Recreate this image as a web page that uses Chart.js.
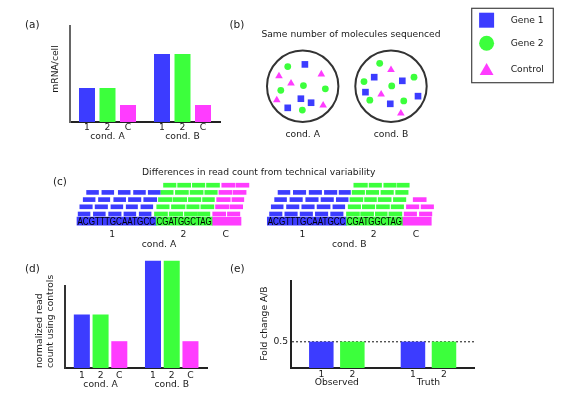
<!DOCTYPE html>
<html>
<head>
<meta charset="utf-8">
<title>Control-based normalization schematic</title>
<script src="https://cdn.jsdelivr.net/npm/chart.js@4/dist/chart.umd.min.js"></script>
<style>
  html, body { margin: 0; padding: 0; background: #ffffff; }
  #wrap { position: relative; width: 562px; height: 397px; overflow: hidden;
          font-family: "DejaVu Sans", Verdana, sans-serif; color: #1a1a1a; }
  #wrap canvas { position: absolute; left: 0; top: 0; }
  .lbl { position: absolute; white-space: nowrap; line-height: 1; font-size: 10.5px; transform: translateY(-50%); }
  .ttl { position: absolute; white-space: nowrap; line-height: 1; font-size: 9.2px; transform: translate(-50%, -50%); }
</style>
</head>
<body>
<div id="wrap">
  <canvas id="chartA" width="562" height="397"></canvas>
  <canvas id="chartB1" width="562" height="397"></canvas>
  <canvas id="chartB2" width="562" height="397"></canvas>
  <canvas id="chartC1" width="562" height="397"></canvas>
  <canvas id="chartC2" width="562" height="397"></canvas>
  <canvas id="chartD" width="562" height="397"></canvas>
  <canvas id="chartE" width="562" height="397"></canvas>
  <div class="lbl" style="left:25px;top:24px">(a)</div>
  <div class="lbl" style="left:229.5px;top:24px">(b)</div>
  <div class="lbl" style="left:53px;top:181px">(c)</div>
  <div class="lbl" style="left:25px;top:267.5px">(d)</div>
  <div class="lbl" style="left:230px;top:267.5px">(e)</div>
  <div class="ttl" style="left:351px;top:34.3px">Same number of molecules sequenced</div>
  <div class="ttl" style="left:258.7px;top:171.7px">Differences in read count from technical variability</div>
</div>
<script>
// ====================== DATA ======================
const geneNames = ['Gene 1', 'Gene 2', 'Control'];
const geneShort = ['1', '2', 'C'];
const condLabels = ['cond. A', 'cond. B'];

// (a) true mRNA per cell
const mrnaGene1 = [2, 4];
const mrnaGene2 = [2, 4];
const mrnaControl = [1, 1];

// (b) molecules sequenced: [x, y] inside the sample (unit radius)
const molA_gene1 = [[0.06, 0.60], [-0.05, -0.34], [0.23, -0.45], [-0.41, -0.59]];
const molA_gene2 = [[-0.41, 0.54], [0.02, 0.02], [-0.60, -0.11], [0.62, -0.07], [-0.01, -0.65]];
const molA_control = [[-0.65, 0.28], [-0.32, 0.08], [0.51, 0.33], [-0.71, -0.38], [0.56, -0.52]];
const molB_gene1 = [[-0.46, 0.25], [0.31, 0.15], [-0.70, -0.16], [-0.02, -0.48], [0.74, -0.27]];
const molB_gene2 = [[-0.31, 0.63], [-0.74, 0.13], [0.63, 0.25], [0.02, 0.01], [-0.58, -0.38], [0.35, -0.40]];
const molB_control = [[0.00, 0.45], [-0.27, -0.22], [0.27, -0.74]];

// (c) reference sequence segments (nt) and reads [start, end, row]
const refStart = [0, 14, 24];
const refEnd = [14, 24, 29];
const refSeq = ['ACGTTTGCAATGCC', 'CGATGGCTAG', ''];
const readTickPos = [6.2, 18.8, 26.3];
const condTickPos = 14.5;
const readsA_gene1 = [
  [0.2, 2.3, 1], [2.9, 5.0, 1], [5.6, 7.8, 1], [8.3, 10.4, 1], [11.0, 13.1, 1],
  [0.5, 2.7, 2], [3.2, 5.4, 2], [6.0, 8.1, 2], [8.7, 10.7, 2], [11.3, 13.4, 2],
  [1.1, 3.2, 3], [3.8, 5.8, 3], [6.5, 8.6, 3], [9.1, 11.3, 3], [11.8, 14.1, 3],
  [1.7, 3.8, 4], [4.4, 6.5, 4], [7.3, 9.4, 4], [10.0, 12.1, 4], [12.6, 14.7, 4]
];
const readsA_gene2 = [
  [13.7, 16.0, 1], [16.3, 18.7, 1], [19.0, 21.2, 1], [21.3, 23.5, 1],
  [14.1, 16.3, 2], [16.7, 19.1, 2], [19.4, 21.6, 2], [21.9, 24.2, 2],
  [14.4, 16.8, 3], [17.0, 19.4, 3], [19.7, 21.9, 3], [22.2, 24.3, 3],
  [14.8, 17.0, 4], [17.4, 19.7, 4], [20.0, 22.3, 4], [22.6, 24.8, 4],
  [15.3, 17.5, 5], [17.8, 20.1, 5], [20.4, 22.6, 5], [22.9, 25.2, 5]
];
const readsA_control = [
  [24.0, 26.3, 1], [26.6, 28.8, 1],
  [24.5, 26.9, 2], [27.1, 29.3, 2],
  [24.7, 27.1, 3], [27.4, 29.5, 3],
  [25.1, 27.4, 4], [27.6, 29.9, 4],
  [25.6, 27.9, 5], [28.1, 30.4, 5]
];
const readsB_gene1 = [
  [0.4, 2.6, 1], [3.1, 5.3, 1], [5.8, 8.0, 1], [8.5, 10.7, 1], [11.2, 13.4, 1],
  [0.7, 2.8, 2], [3.4, 5.6, 2], [6.1, 8.3, 2], [8.8, 11.1, 2], [11.6, 13.7, 2],
  [1.3, 3.4, 3], [4.0, 6.2, 3], [6.8, 9.0, 3], [9.5, 11.7, 3], [12.2, 14.3, 3],
  [1.9, 4.0, 4], [4.6, 6.8, 4], [7.4, 9.6, 4], [10.1, 12.3, 4], [12.7, 14.7, 4]
];
const readsB_gene2 = [
  [14.0, 16.3, 1], [16.5, 18.8, 1], [19.1, 21.2, 1], [21.5, 23.8, 1],
  [14.3, 16.5, 2], [16.8, 19.0, 2], [19.3, 21.6, 2], [21.9, 24.1, 2],
  [14.6, 16.9, 3], [17.2, 19.3, 3], [19.6, 21.9, 3], [22.3, 24.5, 3],
  [15.0, 17.2, 4], [17.5, 19.7, 4], [20.1, 22.3, 4], [22.7, 24.9, 4],
  [15.3, 17.7, 5], [18.0, 20.2, 5], [20.6, 22.8, 5], [23.0, 25.1, 5]
];
const readsB_control = [
  [24.2, 26.4, 1], [26.9, 29.1, 1],
  [24.6, 26.8, 2], [27.2, 29.4, 2],
  [25.8, 28.1, 3]
];

// (d) normalized read count using controls
const normGene1 = [2, 4];
const normGene2 = [2, 4];
const normControl = [1, 1];

// (e) fold change A/B
const foldLabels = ['Observed', 'Truth'];
const foldGene1 = [0.5, 0.5];
const foldGene2 = [0.5, 0.5];
const foldTicks = [0.5];

// ====================== STYLE ======================
const W = 562, H = 397;
const COL = ['#3c3cff', '#3cff3c', '#ff3cff'];
const MARKERS = ['rect', 'circle', 'triangle'];
const TEXT = '#1a1a1a';
const FAMILY = '"DejaVu Sans", Verdana, sans-serif';
const FONT = '9.2px ' + FAMILY;

Chart.defaults.font.family = FAMILY;
Chart.defaults.font.size = 9.2;
Chart.defaults.color = TEXT;
Chart.defaults.animation = false;
Chart.defaults.events = [];
Chart.defaults.responsive = false;
Chart.defaults.maintainAspectRatio = false;
Chart.defaults.plugins.legend.display = false;
Chart.defaults.plugins.tooltip.enabled = false;

function areaPad(l, t, r, b) { return {left: l, top: t, right: W - r, bottom: H - b}; }

// ---------- plugins ----------
function underLabels(barY, groupY) {
  return {
    id: 'underLabels',
    afterDraw(chart) {
      const ctx = chart.ctx;
      ctx.save();
      ctx.fillStyle = TEXT; ctx.font = FONT; ctx.textAlign = 'center'; ctx.textBaseline = 'middle';
      const groupX = chart.data.labels.map(() => []);
      chart.data.datasets.forEach((ds, i) => {
        chart.getDatasetMeta(i).data.forEach((el, j) => {
          ctx.fillText(ds.short, el.x, barY);
          groupX[j].push(el.x);
        });
      });
      chart.data.labels.forEach((lab, j) => {
        const xs = groupX[j];
        const x = xs.reduce((a, b) => a + b, 0) / xs.length;
        ctx.fillText(lab, x, groupY);
      });
      ctx.restore();
    }
  };
}
function yTitle(lines, xs, y, align) {
  return {
    id: 'yTitle',
    afterDraw(chart) {
      const ctx = chart.ctx;
      ctx.save();
      ctx.fillStyle = TEXT; ctx.font = FONT; ctx.textAlign = align; ctx.textBaseline = 'middle';
      lines.forEach((t, i) => {
        ctx.save(); ctx.translate(xs[i], y); ctx.rotate(-Math.PI / 2); ctx.fillText(t, 0, 0); ctx.restore();
      });
      ctx.restore();
    }
  };
}

// ---------- bar panels (a), (d), (e) ----------
function barPanel(id, p) {
  const datasets = p.series.map((vals, i) => ({
    label: geneNames[i], short: geneShort[i], data: vals,
    backgroundColor: COL[i], borderWidth: 0,
    categoryPercentage: p.cat, barPercentage: p.bar, clip: false
  }));
  const y = {
    min: 0, max: p.ymax,
    grid: {display: false, drawTicks: false},
    ticks: {display: false},
    border: {display: true, color: p.yColor, width: 2},
    afterFit: s => { s.width = p.yw; }
  };
  if (p.yTicks) {
    y.afterBuildTicks = s => { s.ticks = p.yTicks.map(v => ({value: v})); };
    y.ticks = {display: true, padding: 3, color: TEXT, font: {size: 9.2}, callback: v => String(v)};
    y.grid = {display: true, drawTicks: false, color: '#555', lineWidth: 1.4};
    y.border = {display: true, color: p.yColor, width: 2, dash: [2, 2]};
  }
  return new Chart(document.getElementById(id), {
    type: 'bar',
    data: {labels: p.labels, datasets},
    options: {
      layout: {padding: areaPad(p.area[0] - p.yw, p.area[1], p.area[2], p.area[3])},
      scales: {
        x: {
          grid: {display: false, drawTicks: false},
          ticks: {display: false},
          border: {display: true, color: '#222', width: 2},
          afterFit: s => { s.height = 0; }
        },
        y
      }
    },
    plugins: [underLabels(p.barY, p.groupY), yTitle(p.title, p.titleX, p.titleY, p.titleAlign)]
  });
}

barPanel('chartA', {
  labels: condLabels, series: [mrnaGene1, mrnaGene2, mrnaControl],
  area: [70, 25.7, 220, 122], yw: 20, ymax: 5.66, yColor: '#666',
  cat: 0.82, bar: 0.78, barY: 127.7, groupY: 137,
  title: ['mRNA/cell'], titleX: [55.5], titleY: 69, titleAlign: 'center'
});
barPanel('chartD', {
  labels: condLabels, series: [normGene1, normGene2, normControl],
  area: [65, 286, 207.3, 368], yw: 30, ymax: 3.06, yColor: '#333',
  cat: 0.79, bar: 0.855, barY: 375.2, groupY: 384.7,
  title: ['normalized read', 'count using controls'], titleX: [40, 50.2], titleY: 368, titleAlign: 'left'
});
barPanel('chartE', {
  labels: foldLabels, series: [foldGene1, foldGene2],
  area: [291, 281, 474.3, 368], yw: 40, ymax: 1.65, yColor: '#222', yTicks: foldTicks,
  cat: 0.677, bar: 0.79, barY: 374.7, groupY: 382.7,
  title: ['Fold change A/B'], titleX: [265], titleY: 323.5, titleAlign: 'center'
});

// ---------- (b) samples ----------
const UNIT = 36.5, HALF = 1.1;
const legendPlugin = {
  id: 'legendBox',
  afterDraw(chart) {
    const ctx = chart.ctx;
    ctx.save();
    ctx.strokeStyle = '#444'; ctx.lineWidth = 1.2;
    ctx.strokeRect(471.7, 8.3, 81.6, 74.4);
    const rows = [20.2, 43.3, 69.2];
    const markerY = [20.2, 43.3, 71];
    const radii = [10.6, 7.5, 8];
    geneNames.forEach((name, i) => {
      ctx.fillStyle = COL[i];
      if (Chart.helpers && Chart.helpers.drawPoint) {
        Chart.helpers.drawPoint(ctx, {pointStyle: MARKERS[i], radius: radii[i], rotation: 0, borderWidth: 0}, 486.6, markerY[i]);
      }
      ctx.fillStyle = TEXT; ctx.font = FONT; ctx.textAlign = 'left'; ctx.textBaseline = 'middle';
      ctx.fillText(name, 510.7, rows[i]);
    });
    ctx.restore();
  }
};
function samplePanel(id, cx, cy, mols, cond, extra) {
  const datasets = [{
    label: 'sample', data: [{x: 0, y: 0}], pointStyle: 'circle', pointRadius: 35.7,
    pointBackgroundColor: 'rgba(0,0,0,0)', pointBorderColor: '#333', pointBorderWidth: 2, clip: false
  }];
  const radii = [4.7, 3.4, 4.4];
  mols.forEach((list, i) => datasets.push({
    label: geneNames[i], data: list.map(m => ({x: m[0], y: m[1]})),
    pointStyle: MARKERS[i], pointRadius: radii[i], pointBackgroundColor: COL[i],
    pointBorderWidth: 0, clip: false
  }));
  const half = HALF * UNIT;
  const condLabel = {
    id: 'condLabel',
    afterDraw(chart) {
      const ctx = chart.ctx;
      ctx.save();
      ctx.fillStyle = TEXT; ctx.font = FONT; ctx.textAlign = 'center'; ctx.textBaseline = 'middle';
      ctx.fillText(cond, chart.scales.x.getPixelForValue(0), 135);
      ctx.restore();
    }
  };
  return new Chart(document.getElementById(id), {
    type: 'scatter',
    data: {datasets},
    options: {
      layout: {padding: areaPad(cx - half, cy - half, cx + half, cy + half)},
      scales: {
        x: {type: 'linear', min: -HALF, max: HALF, display: false},
        y: {type: 'linear', min: -HALF, max: HALF, display: false}
      }
    },
    plugins: [condLabel].concat(extra || [])
  });
}
samplePanel('chartB1', 302.7, 86.3, [molA_gene1, molA_gene2, molA_control], condLabels[0]);
samplePanel('chartB2', 391, 86.3, [molB_gene1, molB_gene2, molB_control], condLabels[1], [legendPlugin]);

// ---------- (c) reads ----------
const NT = 5.655;
function readsPanel(id, originPx, reads, cond) {
  const datasets = [{
    label: 'reference',
    data: refStart.map((s, i) => ({x: [s, refEnd[i]], y: 0})),
    backgroundColor: COL, barThickness: 8, borderWidth: 0, clip: false
  }];
  reads.forEach((list, g) => datasets.push({
    label: geneNames[g], data: list.map(r => ({x: [r[0], r[1]], y: r[2]})),
    backgroundColor: COL[g], barThickness: 4, borderWidth: 0, clip: false
  }));
  const xmin = -0.5, xmax = 31, ymin = -0.7, ymax = 5.6, rowPx = 7.2, refY = 221.2;
  const seqText = {
    id: 'seqText',
    afterDraw(chart) {
      const ctx = chart.ctx;
      ctx.save();
      const meta = chart.getDatasetMeta(0);
      ctx.fillStyle = '#000';
      ctx.font = '10px "Liberation Sans Narrow", "Liberation Sans", Arial, sans-serif';
      ctx.textAlign = 'left'; ctx.textBaseline = 'alphabetic';
      meta.data.forEach((el, i) => {
        if (!refSeq[i]) return;
        const left = Math.min(el.x, el.base), w = Math.abs(el.x - el.base);
        ctx.fillText(refSeq[i], left + 0.4, el.y + 3.6, w - 1.5);
      });
      ctx.fillStyle = TEXT; ctx.font = FONT; ctx.textAlign = 'center'; ctx.textBaseline = 'middle';
      const xs = chart.scales.x;
      readTickPos.forEach((v, i) => ctx.fillText(geneShort[i], xs.getPixelForValue(v), 235));
      ctx.fillText(cond, xs.getPixelForValue(condTickPos), 245);
      ctx.restore();
    }
  };
  return new Chart(document.getElementById(id), {
    type: 'bar',
    data: {datasets},
    options: {
      indexAxis: 'y',
      layout: {padding: areaPad(originPx + xmin * NT, refY - ymax * rowPx, originPx + xmax * NT, refY - ymin * rowPx)},
      scales: {
        x: {type: 'linear', min: xmin, max: xmax, display: false, offset: false},
        y: {type: 'linear', min: ymin, max: ymax, display: false, stacked: true, offset: false}
      }
    },
    plugins: [seqText]
  });
}
readsPanel('chartC1', 77, [readsA_gene1, readsA_gene2, readsA_control], condLabels[0]);
readsPanel('chartC2', 267.3, [readsB_gene1, readsB_gene2, readsB_control], condLabels[1]);
</script>
</body>
</html>
